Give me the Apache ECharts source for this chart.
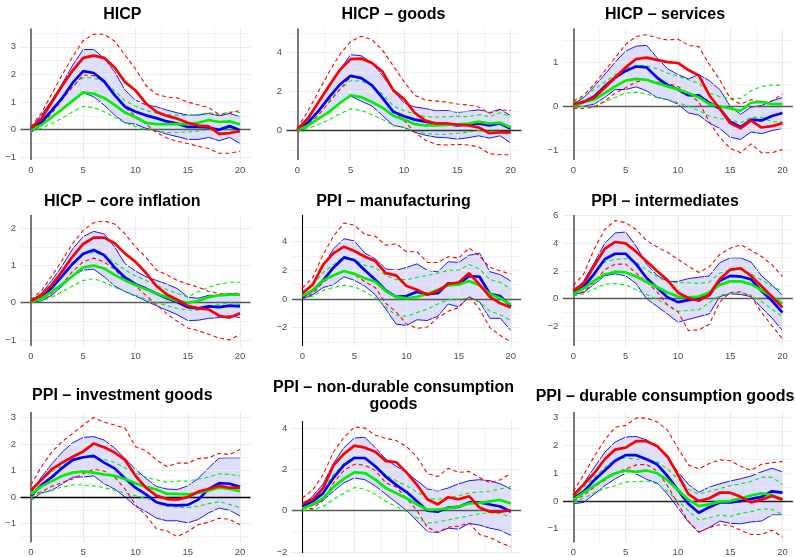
<!DOCTYPE html>
<html><head><meta charset="utf-8">
<script src="https://cdn.jsdelivr.net/npm/echarts@6/dist/echarts.min.js"></script>
<style>html,body{margin:0;padding:0;background:#fff}#c{width:795px;height:557px}</style>
</head><body><div id="c"></div>
<script>
const xTicks = [0, 5, 10, 15, 20];
const titles = ['HICP', 'HICP \u2013 goods', 'HICP \u2013 services', 'HICP \u2013 core inflation', 'PPI \u2013 manufacturing', 'PPI \u2013 intermediates', 'PPI \u2013 investment goods', 'PPI \u2013 non-durable consumption\ngoods', 'PPI \u2013 durable consumption goods'];

// HICP
const hicp_bandHi = [0.05,0.53,1.07,1.67,2.34,2.9,2.9,2.58,2.1,1.43,1.07,0.9,0.83,0.71,0.61,0.53,0.53,0.59,0.5,0.59,0.47];
const hicp_bandLo = [-0.1,0.17,0.47,0.77,1.07,1.34,1.19,0.89,0.53,0.25,0.2,0.05,-0.04,-0.16,-0.25,-0.35,-0.35,-0.28,-0.4,-0.28,-0.5];
const hicp_blue = [0,0.27,0.7,1.15,1.7,2.12,2.05,1.75,1.25,0.83,0.65,0.52,0.42,0.3,0.22,0.1,0.1,0.08,0,0.13,-0.02];
const hicp_red = [0.05,0.4,1.0,1.6,2.15,2.6,2.68,2.6,2.25,1.72,1.42,0.95,0.65,0.5,0.4,0.25,0.15,0.12,-0.15,-0.12,-0.05];
const hicp_redHi = [0.1,0.6,1.3,2.0,2.65,3.22,3.45,3.45,3.2,2.7,2.2,1.6,1.28,1.18,1.15,1.0,0.9,0.8,0.55,0.6,0.7];
const hicp_redLo = [0,0.2,0.6,1.1,1.55,1.98,1.95,1.75,1.3,0.8,0.5,0.2,-0.1,-0.3,-0.42,-0.5,-0.6,-0.68,-0.85,-0.85,-0.78];
const hicp_green = [0,0.17,0.45,0.75,1.05,1.35,1.3,1.15,0.9,0.62,0.45,0.25,0.2,0.2,0.2,0.2,0.25,0.35,0.28,0.3,0.2];
const hicp_greenHi = [0.05,0.35,0.75,1.2,1.6,1.88,1.88,1.72,1.42,1.05,0.85,0.7,0.6,0.55,0.52,0.5,0.55,0.62,0.55,0.65,0.62];
const hicp_greenLo = [-0.02,0.05,0.22,0.42,0.65,0.85,0.8,0.65,0.45,0.25,0.12,0,-0.05,-0.1,-0.1,-0.08,-0.05,0,0,0,-0.05];
const hicp_yTicks = [-1,0,1,2,3];

// HICP goods
const goods_bandHi = [0.05,0.7,1.5,2.3,3.1,3.88,3.82,3.45,2.8,2.05,1.4,1.2,1.12,1.0,1.02,0.92,0.98,1.05,0.92,1.08,0.75];
const goods_bandLo = [-0.1,0.2,0.6,1.0,1.4,1.75,1.5,1.25,0.75,0.25,0.15,-0.1,-0.25,-0.35,-0.38,-0.45,-0.38,-0.28,-0.4,-0.28,-0.65];
const goods_blue = [0,0.4,1.0,1.7,2.35,2.8,2.68,2.3,1.65,0.95,0.72,0.55,0.45,0.35,0.33,0.25,0.3,0.35,0.25,0.35,0.08];
const goods_red = [0.05,0.6,1.45,2.3,3.1,3.65,3.68,3.45,3.0,2.05,1.6,0.9,0.5,0.35,0.35,0.3,0.25,0.15,-0.15,-0.1,-0.1];
const goods_redHi = [0.1,1.0,2.0,3.0,3.9,4.55,4.82,4.65,4.1,3.3,2.5,1.8,1.55,1.5,1.45,1.35,1.3,1.2,0.88,1.05,1.02];
const goods_redLo = [0,0.25,0.8,1.45,2.1,2.75,2.65,2.3,1.6,1.0,0.5,-0.1,-0.5,-0.72,-0.75,-0.72,-0.75,-0.85,-1.2,-1.25,-1.25];
const goods_green = [0,0.25,0.6,0.95,1.4,1.8,1.7,1.45,1.15,0.75,0.55,0.32,0.25,0.25,0.28,0.3,0.35,0.45,0.35,0.4,0.15];
const goods_greenHi = [0.05,0.5,1.0,1.55,2.1,2.55,2.52,2.3,1.85,1.25,1.0,0.85,0.7,0.68,0.7,0.72,0.7,0.8,0.7,0.9,0.7];
const goods_greenLo = [-0.05,0.1,0.3,0.55,0.85,1.1,1.02,0.8,0.55,0.25,0.15,-0.05,-0.15,-0.2,-0.2,-0.15,-0.1,0,-0.05,-0.05,-0.25];
const goods_yTicks = [0,2,4];

// HICP services
const serv_bandHi = [0.05,0.2,0.45,0.72,1.0,1.25,1.36,1.38,1.1,0.85,0.72,0.62,0.72,0.58,0.38,0.0,-0.18,-0.02,0.02,0.12,0.2];
const serv_bandLo = [-0.02,0,0.05,0.2,0.38,0.38,0.44,0.35,0.2,0.15,0.05,-0.15,-0.2,-0.38,-0.5,-0.7,-0.75,-0.58,-0.62,-0.55,-0.5];
const serv_blue = [0.02,0.1,0.22,0.45,0.65,0.8,0.9,0.88,0.65,0.48,0.38,0.25,0.25,0.08,-0.05,-0.35,-0.47,-0.3,-0.32,-0.22,-0.15];
const serv_red = [0.05,0.1,0.2,0.42,0.65,0.88,1.07,1.1,1.05,1.0,0.98,0.82,0.7,0.25,-0.05,-0.38,-0.5,-0.32,-0.48,-0.45,-0.38];
const serv_redHi = [0.12,0.25,0.5,0.8,1.1,1.4,1.58,1.62,1.55,1.5,1.52,1.38,1.35,0.95,0.6,0.18,0.05,0.15,0.1,0.12,0.28];
const serv_redLo = [-0.05,-0.05,-0.02,0.12,0.3,0.42,0.55,0.6,0.55,0.52,0.45,0.28,0.1,-0.35,-0.7,-0.95,-1.05,-0.85,-1.05,-1.05,-0.98];
const serv_green = [0.02,0.1,0.15,0.3,0.45,0.58,0.62,0.6,0.52,0.45,0.38,0.3,0.2,0.05,0,-0.05,-0.1,0.08,0.1,0.05,0.05];
const serv_greenHi = [0.08,0.22,0.38,0.55,0.72,0.85,0.92,0.92,0.85,0.75,0.68,0.6,0.52,0.3,0.22,0.18,0.18,0.35,0.45,0.48,0.48];
const serv_greenLo = [-0.02,0,0,0.1,0.2,0.3,0.32,0.28,0.2,0.15,0.08,0,-0.1,-0.22,-0.28,-0.3,-0.38,-0.25,-0.25,-0.35,-0.35];
const serv_yTicks = [-1,0,1];

// HICP core inflation
const core_bandHi = [0.05,0.25,0.6,1.0,1.45,1.78,1.92,1.85,1.5,1.05,0.85,0.7,0.6,0.5,0.38,0.15,0.12,0.2,0.2,0.25,0.22];
const core_bandLo = [0,0.05,0.2,0.45,0.72,0.88,0.9,0.7,0.45,0.3,0.18,0.05,-0.08,-0.2,-0.32,-0.48,-0.47,-0.42,-0.4,-0.35,-0.4];
const core_blue = [0.02,0.15,0.4,0.72,1.05,1.32,1.42,1.28,0.95,0.68,0.5,0.38,0.25,0.12,0.02,-0.12,-0.15,-0.1,-0.12,-0.08,-0.1];
const core_red = [0.05,0.2,0.48,0.85,1.25,1.58,1.75,1.75,1.6,1.32,1.1,0.8,0.45,0.22,0.08,-0.08,-0.15,-0.18,-0.35,-0.4,-0.28];
const core_redHi = [0.08,0.32,0.72,1.15,1.6,1.95,2.15,2.2,2.12,1.85,1.5,1.22,0.88,0.75,0.6,0.5,0.42,0.3,0.25,0.22,0.28];
const core_redLo = [0,0.1,0.25,0.5,0.85,1.1,1.2,1.1,0.9,0.6,0.45,0.2,-0.05,-0.3,-0.5,-0.68,-0.75,-0.85,-0.95,-1.0,-0.85];
const core_green = [0.02,0.12,0.3,0.5,0.72,0.95,1.0,0.92,0.75,0.6,0.48,0.36,0.25,0.15,0.05,0,0.05,0.15,0.2,0.22,0.22];
const core_greenHi = [0.05,0.2,0.45,0.75,1.02,1.3,1.35,1.28,1.08,0.88,0.72,0.6,0.48,0.35,0.25,0.15,0.3,0.42,0.5,0.55,0.55];
const core_greenLo = [0,0.05,0.15,0.3,0.45,0.6,0.65,0.55,0.42,0.3,0.2,0.1,0,-0.08,-0.15,-0.2,-0.2,-0.1,-0.05,0,-0.05];
const core_yTicks = [-1,0,1,2];

// PPI manufacturing
const manuf_bandHi = [0.3,1.0,2.3,3.5,4.2,4.05,3.2,2.8,2.1,2.0,2.2,2.45,2.0,1.9,2.6,2.55,3.05,3.2,1.9,1.7,1.25];
const manuf_bandLo = [0,0.3,0.8,1.0,1.55,1.3,0.9,0.3,-0.7,-1.75,-1.85,-1.45,-1.5,-1.2,-0.35,-0.55,0.15,-0.2,-1.35,-1.35,-2.2];
const manuf_blue = [0.15,0.6,1.3,2.2,2.9,2.7,2.0,1.35,0.6,0.15,0.2,0.5,0.35,0.4,1.1,1.05,1.6,1.55,0.35,0.2,-0.5];
const manuf_red = [0.4,1.0,2.4,3.2,3.65,3.35,2.95,2.65,1.8,1.65,0.9,0.65,0.3,0.55,1.05,1.15,1.8,1.0,0.15,-0.3,-0.6];
const manuf_redHi = [0.75,1.5,3.1,4.4,5.3,5.15,4.5,4.38,3.75,3.85,3.3,3.3,2.55,2.55,2.95,2.85,3.55,3.0,2.2,1.95,1.75];
const manuf_redLo = [0.05,0.35,1.2,1.6,1.95,1.7,1.2,0.8,-0.3,-0.9,-1.75,-2.05,-1.95,-1.3,-0.85,-0.6,0.2,-0.7,-2.0,-2.55,-3.0];
const manuf_green = [0.2,0.6,1.3,1.65,1.95,1.75,1.45,1.2,0.55,0.15,0.05,0.15,0.35,0.65,0.95,1.0,1.25,0.95,0.35,0.05,-0.4];
const manuf_greenHi = [0.35,1.0,1.85,2.4,2.95,2.75,2.35,2.2,1.65,1.35,1.35,1.5,1.65,1.8,2.0,2.0,2.4,2.1,1.35,1.15,0.7];
const manuf_greenLo = [0.05,0.2,0.6,0.8,0.95,0.85,0.5,0.1,-0.55,-1.15,-1.2,-0.95,-0.7,-0.35,-0.05,0,0.05,-0.2,-0.85,-1.1,-1.5];
const manuf_yTicks = [-2,0,2,4];

// PPI intermediates
const inter_bandHi = [0.5,1.3,2.6,4.0,4.75,4.82,3.8,2.5,1.7,1.25,1.25,1.45,1.55,1.65,2.6,2.95,2.95,2.65,1.65,1.0,0.25];
const inter_bandLo = [0.3,0.45,1.05,1.65,1.8,1.65,1.1,0,-0.55,-1.1,-1.7,-1.5,-1.3,-1.1,0.15,0.35,0.3,0.15,-0.65,-1.4,-2.3];
const inter_blue = [0.4,0.85,1.8,2.85,3.25,3.25,2.5,1.5,0.8,0.1,-0.25,-0.1,0,0.25,1.3,1.65,1.6,1.4,0.55,-0.15,-1.0];
const inter_red = [0.6,1.1,2.4,3.6,4.1,4.0,3.4,2.7,2.0,1.35,0.45,0.05,-0.15,0.3,1.4,2.1,2.2,1.65,0.9,0.15,-0.65];
const inter_redHi = [0.95,1.8,3.6,5.0,5.65,5.5,5.0,4.2,3.75,3.35,2.85,2.35,1.9,2.3,3.2,3.65,3.9,3.5,3.05,2.45,1.6];
const inter_redLo = [0.3,0.5,1.2,2.1,2.5,2.5,1.85,1.2,0.5,-0.45,-0.95,-2.3,-2.25,-1.85,-0.25,0.45,0.5,0.15,-1.0,-1.95,-2.9];
const inter_green = [0.35,0.75,1.3,1.75,1.95,1.9,1.6,1.2,0.85,0.45,0.15,0.1,0.15,0.45,1.0,1.25,1.25,1.05,0.6,0.15,-0.35];
const inter_greenHi = [0.45,1.0,1.9,2.65,2.85,2.9,2.6,2.1,1.6,1.2,1.15,1.15,1.1,1.2,1.85,2.1,2.1,1.8,1.35,0.9,0.55];
const inter_greenLo = [0.2,0.35,0.7,1.05,1.1,1.0,0.65,0.3,-0.05,-0.45,-0.9,-0.85,-0.8,-0.3,0.25,0.4,0.45,0.25,-0.2,-0.75,-1.3];
const inter_yTicks = [-2,0,2,4,6];

// PPI investment goods
const invest_bandHi = [0.15,0.75,1.25,1.7,2.05,2.25,2.28,2.15,1.85,1.45,1.05,0.7,0.4,0.3,0.28,0.42,0.7,1.1,1.47,1.48,1.48];
const invest_bandLo = [-0.12,0.15,0.25,0.5,0.75,0.75,0.8,0.5,0.3,0,-0.35,-0.55,-0.8,-0.9,-0.9,-0.98,-0.85,-0.6,-0.42,-0.5,-0.72];
const invest_blue = [0.05,0.45,0.75,1.1,1.4,1.5,1.55,1.3,1.08,0.7,0.35,0.1,-0.2,-0.3,-0.32,-0.3,-0.1,0.3,0.52,0.5,0.38];
const invest_red = [0.25,0.65,1.05,1.3,1.52,1.72,2.02,1.88,1.68,1.4,0.8,0.35,0.05,-0.08,-0.1,0,0.2,0.3,0.42,0.35,0.35];
const invest_redHi = [0.45,1.15,1.7,2.1,2.4,2.72,3.0,2.82,2.72,2.6,1.9,1.75,1.4,1.15,1.28,1.28,1.45,1.48,1.65,1.6,1.8];
const invest_redLo = [0.05,0.2,0.4,0.55,0.68,0.88,1.05,0.98,0.75,0.3,-0.3,-0.7,-1.2,-1.28,-1.5,-1.3,-1.05,-0.95,-0.8,-0.85,-1.05];
const invest_green = [0.1,0.4,0.6,0.8,0.92,0.97,0.92,0.85,0.8,0.68,0.52,0.38,0.28,0.12,0.12,0.1,0.15,0.25,0.35,0.3,0.22];
const invest_greenHi = [0.25,0.65,0.95,1.2,1.4,1.48,1.5,1.42,1.3,1.1,0.9,0.75,0.65,0.55,0.6,0.6,0.68,0.75,0.88,0.85,0.8];
const invest_greenLo = [-0.02,0.15,0.25,0.38,0.45,0.45,0.42,0.35,0.25,0.15,0.05,-0.05,-0.2,-0.35,-0.38,-0.4,-0.35,-0.25,-0.18,-0.28,-0.4];
const invest_yTicks = [-1,0,1,2,3];

// PPI non-durable consumption goods
const nondur_bandHi = [0.3,0.7,1.3,2.3,3.05,3.52,3.55,3.05,2.5,2.15,1.85,1.45,1.05,0.95,1.1,1.3,1.45,1.5,1.45,1.3,1.05];
const nondur_bandLo = [0.1,0.25,0.5,0.95,1.35,1.58,1.5,1.2,0.8,0.4,0,-0.5,-1.02,-1.05,-0.85,-0.9,-0.62,-0.7,-0.85,-0.95,-1.2];
const nondur_blue = [0.2,0.45,0.85,1.6,2.2,2.55,2.55,2.15,1.65,1.25,0.9,0.45,0,-0.05,0.15,0.18,0.4,0.4,0.3,0.2,-0.05];
const nondur_red = [0.35,0.55,1.1,2.2,2.75,3.15,3.05,2.85,2.4,2.35,1.85,1.25,0.55,0.3,0.65,0.55,0.7,0.15,-0.05,-0.05,0.02];
const nondur_redHi = [0.6,1.0,1.75,2.85,3.55,4.05,4.0,3.65,3.5,3.4,3.1,2.6,1.8,1.65,2.05,1.85,1.9,1.6,1.35,1.5,1.8];
const nondur_redLo = [0.1,0.1,0.5,1.35,1.95,2.25,2.2,1.95,1.35,1.15,0.6,0,-0.8,-1.05,-0.8,-0.75,-0.6,-1.15,-1.3,-1.55,-1.75];
const nondur_green = [0.1,0.3,0.6,1.15,1.55,1.85,1.82,1.5,1.1,0.85,0.6,0.3,0.05,0.05,0.12,0.2,0.35,0.38,0.45,0.52,0.35];
const nondur_greenHi = [0.25,0.55,1.05,1.75,2.3,2.6,2.55,2.15,1.72,1.45,1.2,0.9,0.6,0.55,0.65,0.72,0.85,0.9,0.95,1.05,1.15];
const nondur_greenLo = [0,0.05,0.2,0.55,0.85,1.12,1.05,0.8,0.45,0.2,-0.05,-0.35,-0.6,-0.55,-0.45,-0.35,-0.25,-0.15,-0.1,-0.15,-0.3];
const nondur_yTicks = [-2,0,2,4];

// PPI durable consumption goods
const dur_bandHi = [0.25,0.65,1.2,1.75,2.12,2.3,2.32,2.2,1.95,1.55,1.05,0.6,0.32,0.5,0.62,0.72,0.8,0.9,1.05,1.18,1.05];
const dur_bandLo = [-0.1,-0.05,0.25,0.55,0.8,1.0,0.98,0.78,0.65,0.25,-0.25,-0.75,-1.12,-0.95,-0.72,-0.8,-0.82,-0.75,-0.72,-0.5,-0.5];
const dur_blue = [0.1,0.35,0.75,1.1,1.45,1.65,1.65,1.5,1.32,0.9,0.4,-0.1,-0.42,-0.22,-0.05,-0.05,0,0.08,0.15,0.35,0.3];
const dur_red = [0.2,0.6,1.0,1.5,1.85,1.92,2.15,2.15,1.98,1.6,0.95,0.25,0,0.1,0.3,0.3,0.15,-0.05,0.05,0.18,0.05];
const dur_redHi = [0.35,0.95,1.6,2.2,2.65,2.72,2.98,2.98,2.85,2.55,1.9,1.3,1.15,1.35,1.48,1.45,1.25,1.1,1.32,1.38,1.42];
const dur_redLo = [0,0.2,0.5,0.75,1.0,1.15,1.3,1.32,1.08,0.55,-0.1,-0.72,-1.12,-0.95,-0.85,-0.88,-1.05,-1.2,-1.2,-1.05,-1.3];
const dur_green = [0.05,0.3,0.55,0.8,1.0,1.1,1.05,1.1,1.0,0.75,0.4,0.05,-0.18,-0.12,-0.02,0,0.1,0.2,0.28,0.22,0.05];
const dur_greenHi = [0.15,0.5,0.85,1.2,1.5,1.55,1.5,1.5,1.42,1.15,0.8,0.42,0.25,0.35,0.45,0.55,0.62,0.7,0.85,0.85,0.6];
const dur_greenLo = [-0.05,0.1,0.3,0.45,0.55,0.68,0.7,0.72,0.62,0.35,0,-0.35,-0.68,-0.6,-0.5,-0.55,-0.45,-0.38,-0.28,-0.3,-0.48];
const dur_yTicks = [-1,0,1,2,3];

const panelsData = [
  {bandHi:hicp_bandHi, bandLo:hicp_bandLo, blue:hicp_blue, red:hicp_red, redHi:hicp_redHi, redLo:hicp_redLo, green:hicp_green, greenHi:hicp_greenHi, greenLo:hicp_greenLo, yTicks:hicp_yTicks},
  {bandHi:goods_bandHi, bandLo:goods_bandLo, blue:goods_blue, red:goods_red, redHi:goods_redHi, redLo:goods_redLo, green:goods_green, greenHi:goods_greenHi, greenLo:goods_greenLo, yTicks:goods_yTicks},
  {bandHi:serv_bandHi, bandLo:serv_bandLo, blue:serv_blue, red:serv_red, redHi:serv_redHi, redLo:serv_redLo, green:serv_green, greenHi:serv_greenHi, greenLo:serv_greenLo, yTicks:serv_yTicks},
  {bandHi:core_bandHi, bandLo:core_bandLo, blue:core_blue, red:core_red, redHi:core_redHi, redLo:core_redLo, green:core_green, greenHi:core_greenHi, greenLo:core_greenLo, yTicks:core_yTicks},
  {bandHi:manuf_bandHi, bandLo:manuf_bandLo, blue:manuf_blue, red:manuf_red, redHi:manuf_redHi, redLo:manuf_redLo, green:manuf_green, greenHi:manuf_greenHi, greenLo:manuf_greenLo, yTicks:manuf_yTicks},
  {bandHi:inter_bandHi, bandLo:inter_bandLo, blue:inter_blue, red:inter_red, redHi:inter_redHi, redLo:inter_redLo, green:inter_green, greenHi:inter_greenHi, greenLo:inter_greenLo, yTicks:inter_yTicks},
  {bandHi:invest_bandHi, bandLo:invest_bandLo, blue:invest_blue, red:invest_red, redHi:invest_redHi, redLo:invest_redLo, green:invest_green, greenHi:invest_greenHi, greenLo:invest_greenLo, yTicks:invest_yTicks},
  {bandHi:nondur_bandHi, bandLo:nondur_bandLo, blue:nondur_blue, red:nondur_red, redHi:nondur_redHi, redLo:nondur_redLo, green:nondur_green, greenHi:nondur_greenHi, greenLo:nondur_greenLo, yTicks:nondur_yTicks},
  {bandHi:dur_bandHi, bandLo:dur_bandLo, blue:dur_blue, red:dur_red, redHi:dur_redHi, redLo:dur_redLo, green:dur_green, greenHi:dur_greenHi, greenLo:dur_greenLo, yTicks:dur_yTicks}
];

// layout (pixels) and axis ranges
const layout = [
  {left:20.5, width:230, top:28.5, height:131.5, ymin:-1.095, ymax:3.66, tx:122.3, ty:6, vc:'#5a5a5a', hc:'#5a5a5a'},
  {left:286.6, width:234.8, top:28.5, height:131.5, ymin:-1.52, ymax:5.22, tx:393.5, ty:6, vc:'#5a5a5a', hc:'#333'},
  {left:562.9, width:230, top:28.5, height:131.5, ymin:-1.215, ymax:1.76, tx:665, ty:6, vc:'#5a5a5a', hc:'#5a5a5a'},
  {left:20.5, width:230, top:215, height:131, ymin:-1.164, ymax:2.36, tx:122.3, ty:192.7, vc:'#5a5a5a', hc:'#5a5a5a'},
  {left:291.9, width:229.3, top:215, height:131, ymin:-3.28, ymax:5.86, tx:393.5, ty:192.7, vc:'#000', hc:'#5a5a5a'},
  {left:562.9, width:230, top:215, height:131, ymin:-3.42, ymax:6.05, tx:665, ty:192.7, vc:'#5a5a5a', hc:'#5a5a5a'},
  {left:20.5, width:230, top:412, height:130.5, ymin:-1.72, ymax:3.21, tx:122.3, ty:387, vc:'#5a5a5a', hc:'#000'},
  {left:291.9, width:229.3, top:421, height:132, ymin:-2.05, ymax:4.34, tx:393.5, ty:378.5, vc:'#000', hc:'#5a5a5a'},
  {left:562.9, width:230, top:412, height:130.5, ymin:-1.49, ymax:3.2, tx:665, ty:387.7, vc:'#5a5a5a', hc:'#222'}
];

const FONT = 'Liberation Sans, Arial, sans-serif';
const GREEN = '#00f000';
const fmt = v => String(v).replace('-', '\u2212');
const grids = [], xAxes = [], yAxes = [], series = [], titleOpts = [];

panelsData.forEach((d, i) => {
  const L = layout[i];
  grids.push({left:L.left, top:L.top, width:L.width, height:L.height, containLabel:false, outerBoundsMode:'none'});
  xAxes.push({gridIndex:i, type:'value', min:-1, max:21,
    axisLine:{show:false}, splitLine:{show:false}, minorSplitLine:{show:false},
    axisTick:{show:true, customValues:xTicks, length:2.5, lineStyle:{color:'#333', width:1}},
    axisLabel:{customValues:xTicks, fontSize:9.5, color:'#4d4d4d', margin:5, fontFamily:FONT, formatter:fmt}});
  yAxes.push({gridIndex:i, type:'value', min:L.ymin, max:L.ymax,
    axisLine:{show:false}, splitLine:{show:false}, minorSplitLine:{show:false},
    axisTick:{show:true, customValues:d.yTicks, length:2.5, lineStyle:{color:'#333', width:1}},
    axisLabel:{customValues:d.yTicks, fontSize:9.5, color:'#4d4d4d', margin:4.5, fontFamily:FONT, formatter:fmt}});

  // background grid lines
  const step = d.yTicks[1] - d.yTicks[0];
  const gl = [];
  xTicks.forEach(v => gl.push({xAxis:v, lineStyle:{width:1.1}}));
  [2.5, 7.5, 12.5, 17.5].forEach(v => gl.push({xAxis:v, lineStyle:{width:0.6}}));
  for (let k = -2; k <= d.yTicks.length + 1; k++) {
    const mj = d.yTicks[0] + step * k;
    if (mj > L.ymin && mj < L.ymax) gl.push({yAxis:mj, lineStyle:{width:1.1}});
    const mn = d.yTicks[0] + step * (k + 0.5);
    if (mn > L.ymin && mn < L.ymax) gl.push({yAxis:mn, lineStyle:{width:0.6}});
  }
  series.push({type:'line', xAxisIndex:i, yAxisIndex:i, data:[[0,0]], showSymbol:false, symbol:'none',
    lineStyle:{opacity:0}, silent:true, z:1,
    markLine:{silent:true, symbol:'none', animation:false, label:{show:false},
      lineStyle:{color:'#ebebeb', type:'solid'}, data:gl}});

  const xy = arr => arr.map((v, t) => [t, v]);
  const base = {type:'line', xAxisIndex:i, yAxisIndex:i, symbol:'none', showSymbol:false, silent:true, smooth:false};

  // shaded band between the blue bounds
  series.push({type:'custom', xAxisIndex:i, yAxisIndex:i, silent:true, z:2, data:[[0, 0]],
    renderItem: (params, api) => {
      const upper = d.bandHi.map((v, t) => api.coord([t, v]));
      const lower = d.bandLo.map((v, t) => api.coord([t, v])).reverse();
      return {type:'polygon', shape:{points:upper.concat(lower)}, style:{fill:'rgba(60,60,235,0.17)', stroke:null}};
    }});

  // zero lines
  series.push({type:'line', xAxisIndex:i, yAxisIndex:i, data:[[0,0]], showSymbol:false, symbol:'none',
    lineStyle:{opacity:0}, silent:true, z:3,
    markLine:{silent:true, symbol:'none', animation:false, label:{show:false},
      data:[{yAxis:0, lineStyle:{color:L.hc, width:1.4, type:'solid'}},
            {xAxis:0, lineStyle:{color:L.vc, width:L.vc === '#000' ? 1.1 : 1.6, type:'solid'}}]}});

  // thin blue band edges
  series.push(Object.assign({}, base, {data:xy(d.bandHi), lineStyle:{color:'#0000ff', width:0.9}, z:4}));
  series.push(Object.assign({}, base, {data:xy(d.bandLo), lineStyle:{color:'#0000ff', width:0.9}, z:4}));
  // dashed bands
  series.push(Object.assign({}, base, {data:xy(d.greenHi), lineStyle:{color:GREEN, width:1.1, type:[4,3]}, z:5}));
  series.push(Object.assign({}, base, {data:xy(d.greenLo), lineStyle:{color:GREEN, width:1.1, type:[4,3]}, z:5}));
  series.push(Object.assign({}, base, {data:xy(d.redHi), lineStyle:{color:'#ff0000', width:1.1, type:[4,3]}, z:5}));
  series.push(Object.assign({}, base, {data:xy(d.redLo), lineStyle:{color:'#ff0000', width:1.1, type:[4,3]}, z:5}));
  // thick lines
  series.push(Object.assign({}, base, {data:xy(d.blue), lineStyle:{color:'#0000ff', width:2.7}, z:6}));
  series.push(Object.assign({}, base, {data:xy(d.green), lineStyle:{color:GREEN, width:2.7}, z:6}));
  series.push(Object.assign({}, base, {data:xy(d.red), lineStyle:{color:'#ff0000', width:2.7}, z:6}));

  titleOpts.push({text:titles[i], left:L.tx, top:L.ty, textAlign:'center', padding:0,
    textStyle:{fontSize:16, fontWeight:'bold', color:'#000', fontFamily:FONT, lineHeight:17.7}});
});

const chart = echarts.init(document.getElementById('c'), null, {renderer:'canvas'});
chart.setOption({
  animation:false,
  backgroundColor:'#ffffff',
  title:titleOpts,
  grid:grids,
  xAxis:xAxes,
  yAxis:yAxes,
  series:series
});
</script>
</body></html>
